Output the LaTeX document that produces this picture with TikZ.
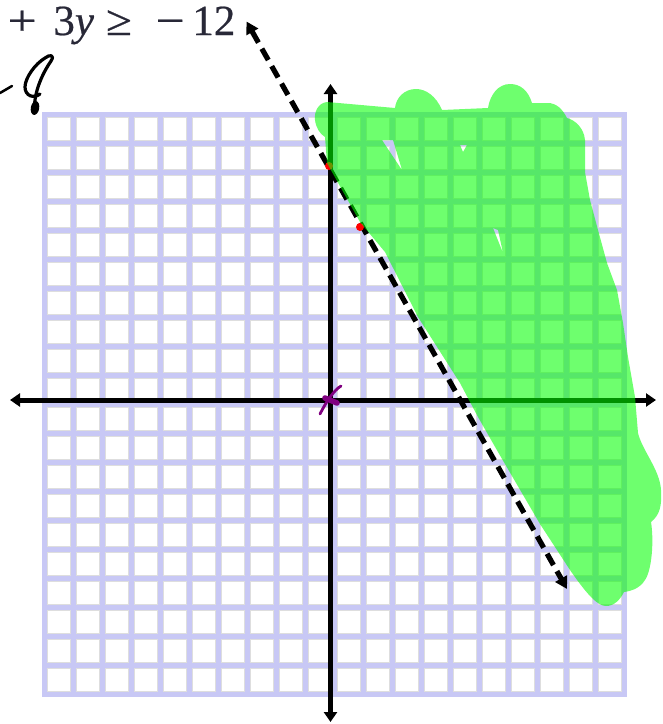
\documentclass[tikz,border=0pt]{standalone}
\usepackage{fontspec}
\setmainfont{Liberation Serif}
\newfontfamily\eqfont{Liberation Serif}[FakeBold=0.5]
\usetikzlibrary{arrows.meta}
\definecolor{gridlav}{RGB}{200,200,245}
\definecolor{cellgray}{RGB}{222,222,222}
\definecolor{eqgray}{RGB}{40,40,55}
\definecolor{hlgreen}{RGB}{0,255,0}
\definecolor{markpurple}{RGB}{128,0,128}
\tikzset{
  axisline/.style={line width=5pt, {Triangle[length=10pt,width=13pt]}-{Triangle[length=10pt,width=13pt]}},
  boundline/.style={line width=5.2pt, dash pattern=on 13pt off 7pt, {Triangle[length=12pt,width=13pt]}-{Triangle[length=12pt,width=13pt]}},
  cellbox/.style={fill=white, draw=cellgray, line width=1pt},
  reddot/.style={fill=red, draw=none},
  greenregion/.style={fill=hlgreen, fill opacity=0.57, even odd rule},
  handink/.style={line width=3.2pt, line cap=round, line join=round},
  purpleink/.style={draw=markpurple, line cap=round}
}
\begin{document}
\begin{tikzpicture}[x=1pt,y=-1pt]
\useasboundingbox (0,0) rectangle (663,724);
% grid
\fill[gridlav] (42,112) rectangle (627,697);
\foreach \i in {0,...,19}{
  \foreach \j in {0,...,19}{
    \draw[cellbox] ({47.5+29*\i},{117.5+29*\j}) rectangle ({70.5+29*\i},{140.5+29*\j});
  }
}
% equation text
\node[anchor=base west, inner sep=0, text=eqgray, font=\eqfont\fontsize{43}{46}\selectfont] (eq) at (7.4,35)
  {\scalebox{1.2}[1]{+}\hspace{16.7pt}3\textit{y}\hspace{12pt}\scalebox{1.1}[1]{≥}\hspace{23.6pt}\scalebox{1.2}[1]{−}\hspace{7.7pt}12};
% handwriting
\coordinate (hd1) at (0,93);
\coordinate (hd2) at (12,86);
\draw[handink, line width=2.5pt] (hd1) -- (hd2);
\draw[handink] (35,112) .. controls (33,100) and (38,80) .. (51,61)
  .. controls (55,55) and (50,54) .. (45,58)
  .. controls (35,64) and (25,78) .. (25,87)
  .. controls (25,96) and (34,99) .. (40,94);
\fill[rotate around={-10:(35,108)}] (35,108) ellipse [x radius=4.2pt, y radius=7pt];
% axes
\coordinate (xl) at (10,400);
\coordinate (xr) at (656,400);
\coordinate (yt) at (330.5,84);
\coordinate (yb) at (330.5,722);
\draw[axisline] (xl) -- (xr);
\draw[axisline] (yt) -- (yb);
% boundary line
\coordinate (dt) at (246.5,21.5);
\coordinate (db) at (567,589);
\draw[boundline] (dt) -- (db);
% red dots
\fill[reddot] (329,166) circle (4pt);
\fill[reddot] (360,227) circle (4pt);
% shaded region
\fill[greenregion]
 (327,163) -- (360,222) -- (385,252) -- (418,317) -- (460,383) -- (478,417) -- (498,452) -- (540,524) -- (570,570)
 .. controls (588,596) and (598,606) .. (606,606)
 .. controls (614,606) and (620,600) .. (624,592)
 .. controls (632,591) and (640,588) .. (645,580)
 .. controls (652,570) and (654,540) .. (651,522)
 .. controls (660,515) and (662,505) .. (661,490)
 .. controls (660,470) and (642,450) .. (638,433)
 -- (635,397) -- (628,357) -- (623,323) -- (617,290) -- (607,263) -- (598,230) -- (590,200) -- (585,172) -- (585,140)
 .. controls (584,128) and (575,120) .. (567,118)
 .. controls (562,108) and (556,104) .. (550,103)
 -- (532,103)
 .. controls (528,90) and (520,84) .. (510,84)
 .. controls (498,84) and (490,95) .. (488,108)
 -- (442,110)
 .. controls (436,96) and (426,89) .. (416,89)
 .. controls (404,89) and (396,98) .. (395,108)
 -- (327,102)
 .. controls (318,103) and (314,112) .. (315,120)
 .. controls (316,128) and (320,134) .. (325,137)
 -- cycle
 (382,140) -- (393,140) -- (402,170) -- cycle
 (460,145) -- (467,145) -- (463,152) -- cycle
 (493,228) -- (498,230) -- (503,253) -- cycle;
% origin mark
\draw[purpleink, line width=2.8pt] (320,414) .. controls (326,402) and (334,390) .. (341,386);
\draw[purpleink, line width=5.5pt] (325,398) -- (337,403);
\end{tikzpicture}
\end{document}
